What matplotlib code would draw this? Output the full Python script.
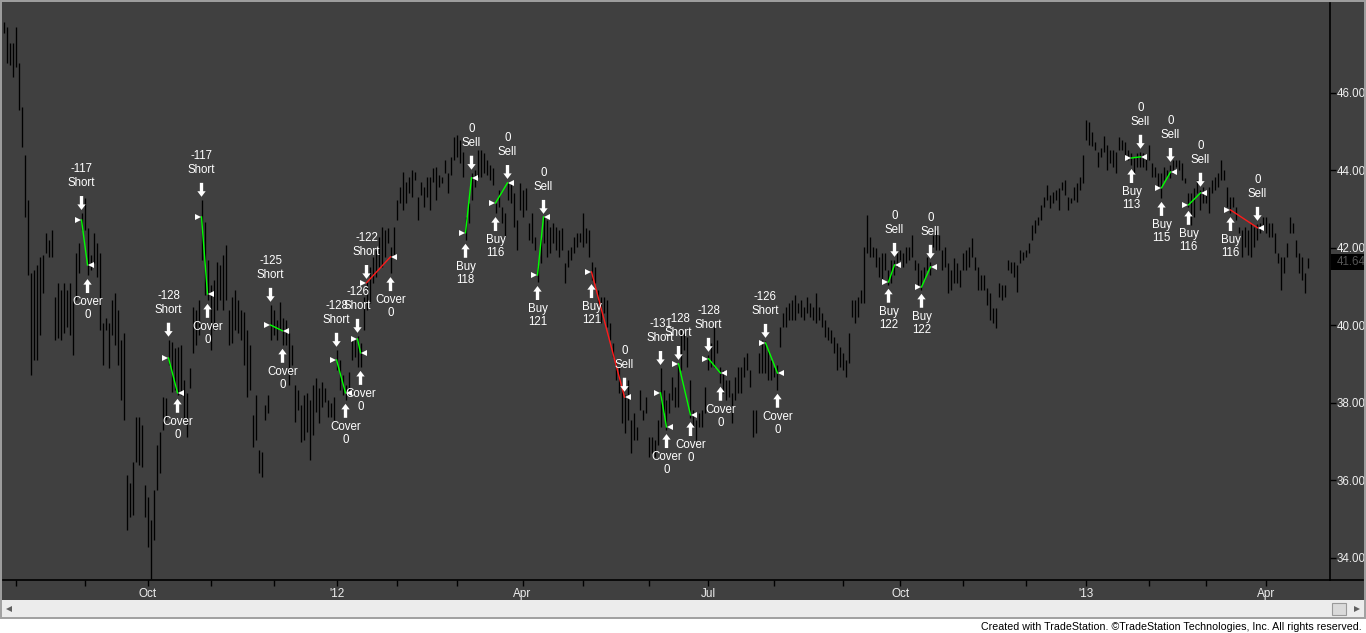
import matplotlib
matplotlib.use("Agg")
import matplotlib.pyplot as plt
import matplotlib.transforms as mtransforms
from matplotlib.patches import Rectangle
from matplotlib.lines import Line2D

plt.rcParams['font.family'] = ['Liberation Sans', 'DejaVu Sans']

# ---------------- DATA ----------------
# daily bar highs / lows (one bar per trading day, late Jul 2011 -> Apr 2013)
highs = [
    47.83, 47.70, 47.29, 47.29, 47.70, 46.77, 45.64, 44.40, 43.24, 41.35,
    41.43, 41.56, 41.77, 41.82, 42.39, 42.21, 42.46, 40.74, 41.10, 40.92,
    41.10, 40.92, 41.10, 40.66, 41.87, 42.13, 42.90, 43.29, 42.52, 41.82,
    42.39, 42.13, 41.87, 40.06, 40.19, 40.06, 40.66, 40.84, 40.40, 39.63,
    39.81, 36.14, 35.94, 36.48, 37.64, 37.64, 37.43, 35.88, 35.57, 34.98,
    35.75, 36.92, 37.25, 38.15, 38.13, 39.63, 39.57, 39.42, 39.45, 39.50,
    38.59, 38.26, 38.90, 40.48, 40.40, 40.66, 43.24, 42.67, 41.69, 41.05,
    41.17, 41.64, 41.56, 41.82, 42.08, 40.40, 40.74, 40.92, 40.66, 40.40,
    40.35, 39.88, 39.50, 37.69, 38.21, 36.79, 36.74, 37.95, 38.21, 40.53,
    40.40, 40.14, 40.61, 40.19, 40.14, 39.81, 39.50, 38.46, 38.34, 37.95,
    38.21, 38.26, 38.08, 38.46, 38.65, 38.39, 38.54, 38.39, 38.08, 38.00,
    38.15, 39.37, 39.11, 38.72, 38.46, 38.80, 39.70, 39.63, 39.73, 39.55,
    40.74, 41.12, 41.51, 41.77, 41.95, 42.28, 42.54, 42.46, 42.52, 42.03,
    42.54, 43.24, 43.57, 43.96, 43.70, 43.83, 44.01, 43.96, 43.32, 43.70,
    43.57, 43.83, 43.83, 44.06, 44.09, 43.88, 43.83, 44.27, 43.94, 44.35,
    44.86, 44.92, 44.79, 44.48, 42.80, 43.16, 43.94, 44.01, 44.53, 44.53,
    44.45, 44.27, 44.14, 44.06, 43.16, 43.50, 43.06, 42.90, 43.70, 43.68,
    43.42, 42.72, 43.68, 43.50, 43.55, 42.65, 42.90, 42.28, 41.56, 42.28,
    42.80, 42.72, 42.54, 42.65, 42.54, 42.46, 42.52, 41.61, 41.95, 42.03,
    42.28, 42.39, 42.39, 42.90, 42.52, 42.46, 41.64, 41.51, 40.92, 40.74,
    40.74, 40.66, 40.06, 39.55, 39.11, 38.93, 38.41, 38.21, 38.59, 37.56,
    37.74, 37.38, 38.34, 37.82, 38.15, 37.12, 37.12, 37.05, 37.56, 38.90,
    38.34, 38.08, 38.26, 38.67, 38.41, 39.03, 39.88, 39.81, 39.70, 38.59,
    37.82, 37.56, 37.74, 37.82, 38.41, 39.24, 39.55, 39.96, 39.63, 38.93,
    38.85, 38.59, 38.59, 38.26, 38.67, 38.93, 38.93, 39.19, 39.29, 38.85,
    37.82, 37.82, 39.29, 39.63, 39.60, 39.37, 39.11, 38.93, 38.98, 39.96,
    40.32, 40.48, 40.58, 40.66, 40.79, 40.58, 40.66, 40.48, 40.74, 40.58,
    40.48, 40.84, 40.48, 40.32, 40.14, 39.96, 39.88, 39.70, 39.55, 39.45,
    39.29, 39.11, 39.81, 40.66, 40.66, 40.74, 40.92, 42.03, 42.85, 42.28,
    42.03, 42.00, 41.77, 41.87, 41.87, 41.43, 41.69, 41.69, 41.87, 41.95,
    41.87, 42.03, 42.03, 42.34, 41.69, 41.61, 41.43, 41.51, 41.77, 41.64,
    42.34, 42.46, 42.34, 41.95, 42.03, 41.61, 41.43, 41.74, 41.61, 41.43,
    41.87, 41.95, 42.03, 42.26, 41.77, 41.51, 41.30, 41.30, 40.97, 40.84,
    40.45, 40.45, 41.10, 41.05, 41.05, 41.69, 41.64, 41.64, 41.56, 41.95,
    41.90, 41.95, 42.13, 42.59, 42.72, 42.80, 43.11, 43.32, 43.63, 43.37,
    43.45, 43.50, 43.55, 43.70, 43.75, 43.32, 43.29, 43.57, 43.68, 43.83,
    44.40, 45.30, 45.25, 44.99, 44.74, 44.48, 44.58, 44.89, 44.66, 44.53,
    44.53, 44.48, 44.86, 44.79, 44.74, 44.53, 44.45, 44.35, 44.45, 44.48,
    44.45, 44.40, 44.66, 44.19, 44.09, 43.94, 43.94, 44.09, 44.01, 44.14,
    44.27, 44.27, 44.27, 44.19, 43.81, 43.42, 43.42, 43.55, 43.75, 43.50,
    43.57, 43.50, 43.57, 43.75, 43.83, 43.94, 44.27, 44.01, 43.57, 43.32,
    43.32, 43.06, 42.54, 42.46, 42.54, 42.46, 42.65, 42.54, 42.62, 42.65,
    42.80, 42.80, 42.65, 42.65, 42.39, 41.87, 41.77, 41.77, 42.13, 42.80,
    42.65, 42.21, 41.87, 41.77, 41.35, 41.74,
]
lows = [
    47.55, 46.77, 46.72, 46.41, 46.67, 45.56, 44.61, 42.80, 41.30, 38.72,
    39.11, 39.11, 39.75, 40.84, 41.87, 41.77, 41.77, 39.63, 39.68, 39.63,
    39.81, 39.96, 39.75, 39.24, 40.66, 41.35, 42.46, 42.46, 41.30, 41.43,
    41.61, 41.25, 39.88, 38.98, 39.88, 38.90, 39.75, 39.50, 38.98, 38.08,
    37.56, 34.72, 35.06, 35.11, 36.48, 36.40, 36.35, 35.06, 34.28, 33.45,
    34.46, 35.75, 36.19, 37.30, 37.56, 38.98, 38.28, 38.34, 38.21, 38.21,
    37.56, 37.12, 38.39, 39.29, 39.50, 39.75, 41.69, 40.79, 40.66, 39.37,
    39.88, 40.40, 40.66, 40.40, 40.66, 39.50, 39.55, 39.88, 39.81, 39.63,
    38.98, 38.15, 38.34, 36.86, 37.05, 36.19, 36.09, 37.56, 37.74, 39.63,
    39.75, 39.63, 39.88, 39.50, 39.50, 38.46, 38.98, 37.51, 37.82, 36.99,
    37.05, 37.25, 36.53, 37.17, 37.77, 37.48, 37.90, 38.03, 37.64, 37.64,
    37.56, 38.85, 38.34, 38.21, 38.08, 38.21, 39.11, 39.19, 38.93, 38.93,
    39.88, 40.40, 40.58, 41.10, 41.25, 41.51, 41.51, 41.77, 42.13, 41.35,
    41.77, 42.72, 43.16, 42.98, 43.16, 43.42, 43.32, 43.75, 42.72, 43.37,
    43.06, 43.32, 42.98, 43.70, 43.24, 43.57, 43.68, 43.94, 43.42, 43.88,
    44.27, 44.35, 44.19, 43.83, 42.21, 42.65, 43.24, 43.57, 43.83, 43.83,
    43.94, 43.88, 43.75, 43.63, 42.90, 43.06, 42.65, 42.28, 43.24, 43.16,
    42.54, 41.95, 42.98, 42.80, 42.98, 42.21, 42.13, 41.95, 41.12, 41.61,
    42.13, 41.77, 41.87, 42.13, 41.95, 41.77, 41.95, 41.10, 41.51, 41.69,
    41.87, 42.03, 42.15, 42.03, 42.13, 41.77, 41.17, 41.10, 40.58, 40.06,
    40.32, 39.96, 39.63, 39.19, 38.59, 38.26, 37.48, 37.23, 37.56, 36.71,
    37.05, 37.05, 37.82, 37.56, 37.74, 36.61, 36.71, 36.61, 36.92, 37.38,
    37.74, 37.30, 37.74, 38.08, 37.90, 37.90, 38.85, 39.37, 38.93, 37.61,
    37.38, 37.05, 37.38, 37.38, 37.74, 38.85, 38.93, 38.93, 39.29, 38.52,
    38.26, 38.08, 38.15, 37.48, 38.08, 38.26, 38.26, 38.67, 38.85, 38.41,
    37.12, 37.23, 38.77, 38.77, 38.77, 38.59, 38.59, 38.67, 38.34, 39.45,
    39.96, 39.96, 40.14, 40.14, 40.14, 40.32, 40.22, 40.14, 40.32, 40.22,
    40.14, 40.06, 40.14, 39.96, 39.70, 39.63, 39.55, 39.29, 38.85, 38.93,
    38.85, 38.67, 39.03, 40.22, 40.06, 40.22, 40.58, 40.58, 41.87, 41.77,
    41.77, 41.51, 41.25, 41.17, 41.43, 41.05, 41.10, 41.30, 41.51, 41.69,
    41.51, 41.61, 41.69, 41.77, 41.43, 40.99, 40.92, 41.17, 41.43, 41.30,
    42.03, 41.95, 41.95, 41.43, 41.51, 40.84, 40.92, 41.10, 41.10, 40.99,
    41.43, 41.43, 41.51, 41.77, 41.43, 40.92, 40.92, 40.92, 40.53, 40.14,
    40.06, 39.94, 40.74, 40.66, 40.74, 41.43, 41.35, 41.25, 40.86, 41.61,
    41.69, 41.77, 41.87, 42.21, 42.39, 42.59, 42.72, 43.06, 43.24, 43.03,
    43.16, 43.24, 42.98, 43.50, 43.37, 42.98, 43.16, 43.24, 43.19, 43.50,
    43.68, 44.79, 44.66, 44.63, 44.53, 44.09, 44.35, 44.48, 44.01, 44.19,
    44.09, 43.94, 44.53, 44.53, 44.35, 44.27, 44.14, 43.94, 44.09, 44.09,
    44.09, 44.01, 44.27, 43.83, 43.83, 43.57, 43.29, 43.75, 43.83, 43.81,
    43.94, 44.09, 44.01, 43.75, 43.68, 43.06, 42.59, 42.80, 43.42, 42.98,
    43.16, 43.16, 42.90, 43.42, 43.50, 43.57, 43.75, 43.75, 43.06, 42.90,
    43.06, 42.72, 42.39, 41.77, 42.03, 41.82, 41.77, 42.03, 42.21, 42.39,
    42.46, 42.39, 42.28, 42.28, 41.87, 41.61, 40.92, 41.35, 41.77, 42.39,
    42.39, 41.77, 41.35, 41.17, 40.84, 41.48,
]

# first trading day of each month (bar index) and its label
month_idx = [4, 27, 48, 69, 90, 111, 131, 151, 173, 193, 215, 235, 257, 280,
             299, 320, 341, 361, 382, 401, 421]
month_lbl = ['', '', 'Oct', '', '', "'12", '', '', 'Apr', '', '', 'Jul', '', '',
             'Oct', '', '', "'13", '', '', 'Apr']

price_ticks = [34, 36, 38, 40, 42, 44, 46]
last_price = 41.64

# trades from the strategy
trade_side = ['short'] * 7 + ['long'] * 4 + ['short'] * 4 + ['long'] * 6
entry_idx = [26, 55, 66, 89, 111, 118, 121, 154, 164, 178, 196,
             219, 225, 235, 254, 295, 306, 376, 386, 395, 409]
exit_idx = [28, 58, 68, 93, 114, 119, 129, 156, 168, 180, 207,
            221, 229, 239, 258, 297, 309, 379, 389, 399, 418]
entry_px = [42.72, 39.16, 42.80, 40.01, 39.11, 39.65, 41.10, 42.39, 43.16, 41.30, 41.38,
            38.26, 39.01, 39.14, 39.55, 41.12, 40.99, 44.32, 43.55, 43.11, 42.98]
exit_px = [41.56, 38.26, 40.81, 39.86, 38.26, 39.29, 41.77, 43.81, 43.68, 42.80, 38.15,
           37.38, 37.69, 38.77, 38.77, 41.56, 41.51, 44.35, 43.96, 43.42, 42.52]
entry_lbl = ['-117', '-128', '-117', '-125', '-128', '-126', '-122', '118', '116', '121', '121',
             '-131', '-128', '-128', '-126', '122', '122', '113', '115', '116', '116']
exit_lbl = ['0'] * len(entry_lbl)

# ---------------- FIGURE ----------------
W, H = 1366, 633
BG = '#404040'
TXT = '#eeeeee'

fig = plt.figure(figsize=(W / 100, H / 100), dpi=100)
fig.patch.set_facecolor(BG)

ax = fig.add_axes([3 / W, (H - 580) / H, 1327 / W, 577 / H])
ax.set_facecolor(BG)

bars_x = list(range(len(highs)))
ax.vlines(bars_x, lows, highs, color='black', lw=0.95, zorder=2)

ax.set_xlim(-0.17, 442.17)
ax.set_ylim(33.43, 48.32)

for s in ['left', 'top']:
    ax.spines[s].set_visible(False)
for s in ['right', 'bottom']:
    ax.spines[s].set_color('black')
    ax.spines[s].set_linewidth(1.2)

ax.yaxis.tick_right()
ax.set_yticks(price_ticks)
ax.set_yticklabels(['%.2f' % p for p in price_ticks])
ax.tick_params(axis='y', length=4, width=1, color='black', labelcolor=TXT,
               labelsize=8.3, pad=1)
ax.set_xticks(month_idx)
ax.set_xticklabels(month_lbl)
ax.tick_params(axis='x', length=4, width=1, color='black', labelcolor=TXT,
               labelsize=8.5, pad=2)

ARROW = 'simple,head_length=0.4,head_width=0.6,tail_width=0.24'


def arrow_down(x, y):
    ax.annotate('', xy=(x, y), xytext=(0, 17), textcoords='offset pixels',
                arrowprops=dict(arrowstyle=ARROW, fc='white', ec='none', lw=0,
                                mutation_scale=10, shrinkA=0, shrinkB=2.2),
                zorder=5)


def arrow_up(x, y):
    ax.annotate('', xy=(x, y), xytext=(0, -18), textcoords='offset pixels',
                arrowprops=dict(arrowstyle=ARROW, fc='white', ec='none', lw=0,
                                mutation_scale=10, shrinkA=0, shrinkB=2.9),
                zorder=5)


def label(x, y, txt, dy):
    ax.annotate(txt, xy=(x, y), xytext=(0, dy), textcoords='offset pixels',
                ha='center', va='center', color='white', fontsize=8.3, zorder=6)


for side, ei, xi, ep, xp, el, xl in zip(trade_side, entry_idx, exit_idx,
                                        entry_px, exit_px, entry_lbl, exit_lbl):
    win = xp > ep if side == 'long' else xp < ep
    ax.plot([ei, xi], [ep, xp], color='#00ff00' if win else '#ff1a1a', lw=1, zorder=3)
    ax.plot(ei - 1.2, ep, marker='>', ms=5, color='white', mew=0, zorder=4)
    ax.plot(xi + 1.2, xp, marker='<', ms=5, color='white', mew=0, zorder=4)
    if side == 'short':
        arrow_down(ei, highs[ei])
        label(ei, highs[ei], 'Short', 30)
        label(ei, highs[ei], el, 44)
        arrow_up(xi, lows[xi])
        label(xi, lows[xi], 'Cover', -27)
        label(xi, lows[xi], xl, -40)
    else:
        arrow_up(ei, lows[ei])
        label(ei, lows[ei], 'Buy', -27)
        label(ei, lows[ei], el, -40)
        arrow_down(xi, highs[xi])
        label(xi, highs[xi], 'Sell', 30)
        label(xi, highs[xi], xl, 44)

# last price marker on the price axis
blend = mtransforms.blended_transform_factory(ax.transAxes, ax.transData)
ax.add_patch(Rectangle((1.0008, last_price - 0.2), 0.0245, 0.4, transform=blend,
                       facecolor='black', edgecolor='none', clip_on=False, zorder=5))
ax.text(1.0053, last_price, '%.2f' % last_price, transform=blend, ha='left',
        va='center', color='#555555', fontsize=8.3, clip_on=False, zorder=6)

# bottom axis line continues under the price axis
fig.add_artist(Line2D([1330 / W, 1363 / W], [(H - 580) / H] * 2, color='black',
                      lw=1.2, transform=fig.transFigure))

# scroll bar and footer
fig.add_artist(Rectangle((0, (H - 617) / H), 1, 17 / H, transform=fig.transFigure,
                         facecolor='#ececec', edgecolor='none'))
fig.add_artist(Rectangle((0, 0), 1, (H - 617) / H, transform=fig.transFigure,
                         facecolor='white', edgecolor='none'))
fig.add_artist(Rectangle((1332 / W, (H - 615) / H), 14 / W, 12 / H,
                         transform=fig.transFigure, facecolor='#dadada',
                         edgecolor='#9a9a9a', lw=0.8))
fig.add_artist(Line2D([9 / W], [(H - 609) / H], marker='<', ms=4, color='#606060',
                      mew=0, transform=fig.transFigure))
fig.add_artist(Line2D([1357 / W], [(H - 609) / H], marker='>', ms=4, color='#606060',
                      mew=0, transform=fig.transFigure))
fig.add_artist(Rectangle((1 / W, (H - 618) / H), (W - 2) / W, 617 / H,
                         transform=fig.transFigure, fill=False,
                         edgecolor='#a0a0a0', lw=1.4))

fig.text(1362 / W, (H - 627) / H,
         'Created with TradeStation. \u00a9TradeStation Technologies, Inc. All rights reserved.',
         ha='right', va='center', fontsize=7.7, color='black')

fig.savefig('out.png', dpi=100, facecolor=fig.get_facecolor())
